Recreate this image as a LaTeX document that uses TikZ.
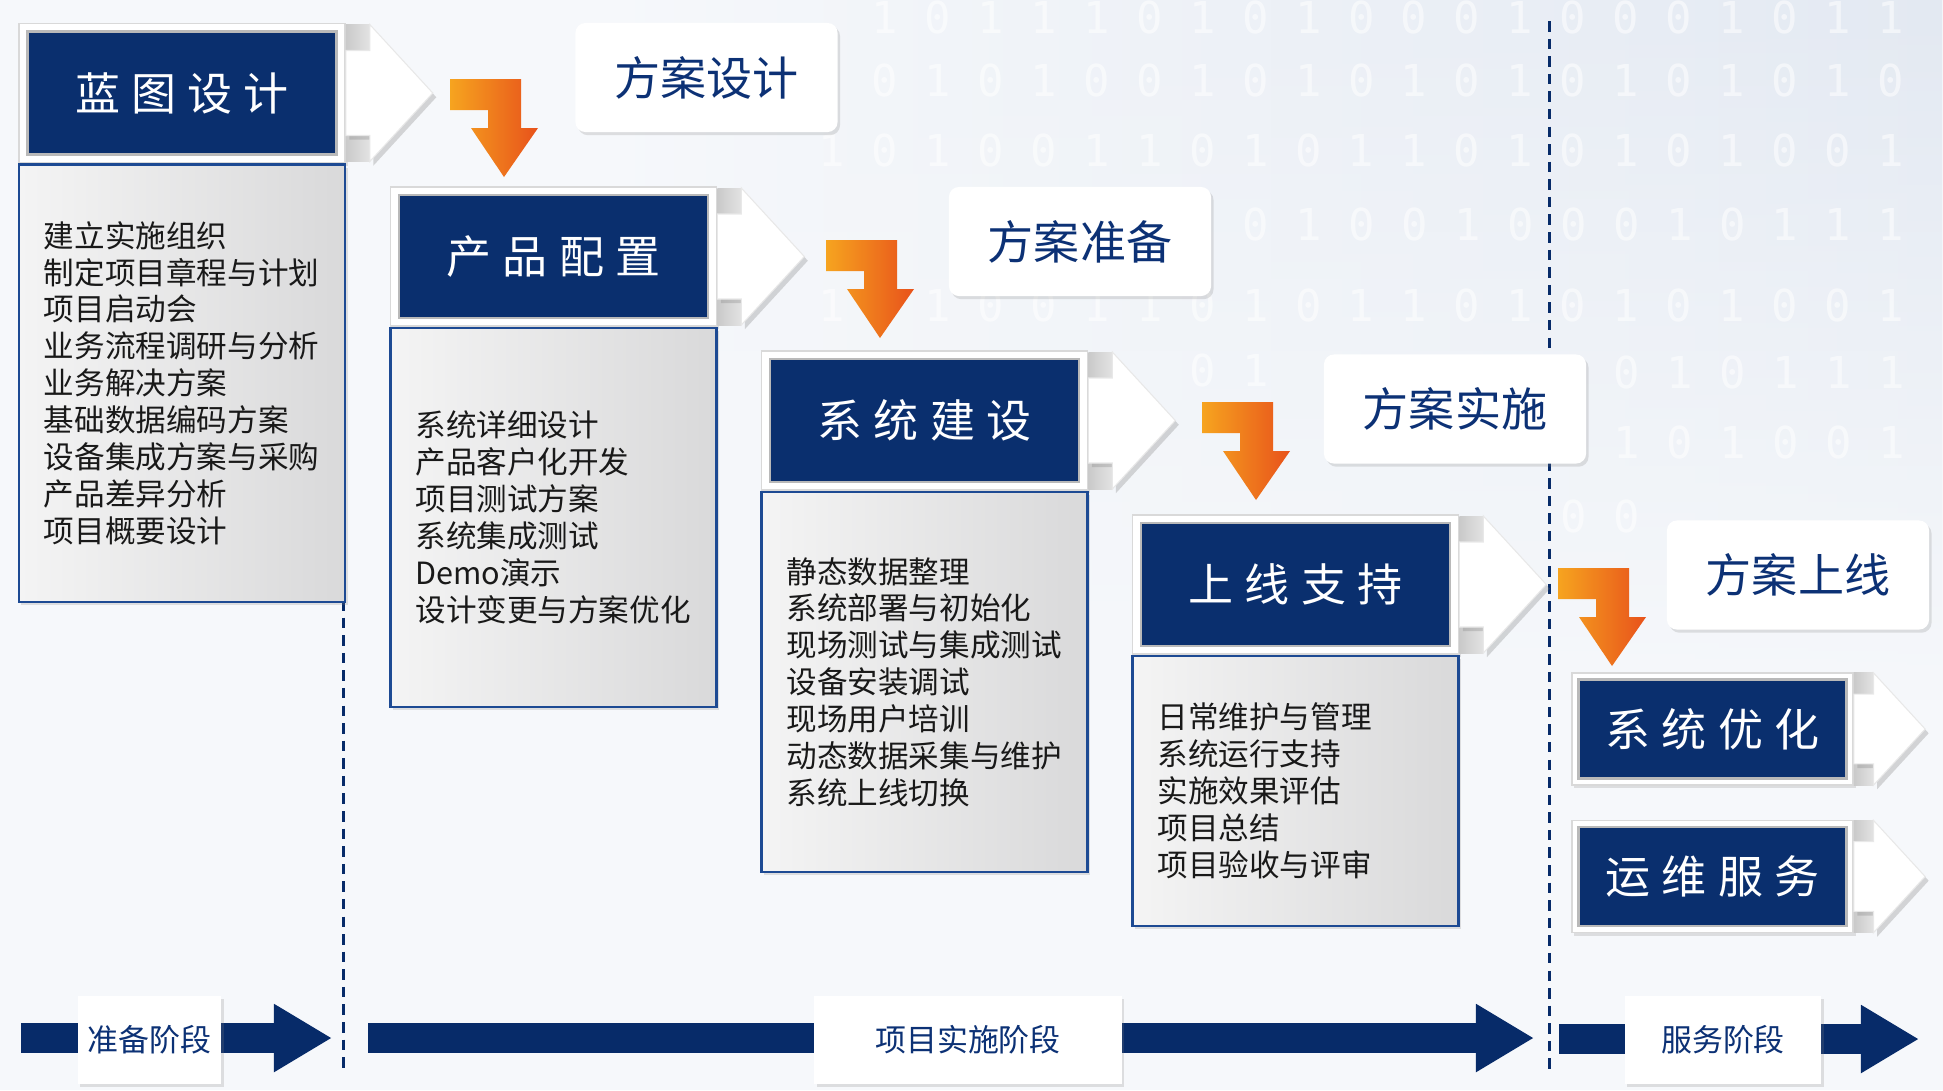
\documentclass[tikz,border=0pt]{standalone}
\usepackage{fontspec}
\setmainfont{Noto Sans CJK SC}
\newfontfamily\headfont[LetterSpace=25]{Noto Sans CJK SC}
\newfontfamily\bitfont{DejaVu Sans Mono}
\usepackage{tikz}
\usetikzlibrary{arrows.meta,positioning,shadows,fadings}
\definecolor{Navy}{HTML}{072B69}
\definecolor{NavyIn}{HTML}{0A2F6E}
\definecolor{NavyOut}{HTML}{021648}
\definecolor{NavyText}{HTML}{0C3175}
\definecolor{Edge}{HTML}{1D4A93}
\definecolor{OrangeL}{HTML}{F6A41F}
\definecolor{OrangeR}{HTML}{E8521B}
\definecolor{Paper}{HTML}{F6F8FB}
\definecolor{PaperBlue}{HTML}{E3E9F2}
\definecolor{ListL}{HTML}{F4F4F4}
\definecolor{ListR}{HTML}{D9D9DA}
\pgfdeclareradialshading{vignette}{\pgfpoint{0bp}{0bp}}{color(0bp)=(NavyIn); color(36bp)=(NavyIn); color(52bp)=(NavyOut); color(72bp)=(NavyOut)}
\newcommand{\turnarrow}[1]{\begin{scope}[shift={(#1)}]
  \shade[turn] (0,0) -- (71,0) -- (71,49) -- (88,49) -- (54,98) -- (21,49) -- (38,49) -- (38,31) -- (0,31) -- cycle;
\end{scope}}
\newcommand{\nextarrow}[2]{\begin{scope}[shift={(#1.east)},scale=#2]
  \shade[left color=gray!42, right color=gray!22] (0,-68.5) rectangle (24,68.5);
  \fill[white,draw=gray!18,line width=0.3pt,drop shadow={opacity=0.3,shadow xshift=1pt,shadow yshift=-1.2pt}] (0,-42.5) -- (24,-42.5) -- (24,-68.5) -- (87,0) -- (24,68.5) -- (24,42.5) -- (0,42.5) -- cycle;
\end{scope}}

\begin{document}
\begin{tikzpicture}[x=0.01cm, y=-0.01cm, every node/.style={font=\fontsize{8.7}{10.5}\selectfont},
  soft/.style={drop shadow={opacity=0.22,shadow xshift=0.7pt,shadow yshift=-0.9pt}},
  frame/.style={draw=gray!30, fill=white, inner sep=0pt, minimum width=3.26cm, minimum height=1.39cm, soft},
  head/.style={draw=gray!55, line width=0.7pt, shade, shading=vignette, text=white, inner sep=0pt, minimum width=3.09cm, minimum height=1.23cm, font=\headfont\fontsize{12.8}{14}\selectfont},
  list/.style={draw=Edge, line width=0.7pt, left color=ListL, right color=ListR, text=black!90, inner xsep=0.25cm, text width=2.76cm, align=left, soft},
  note/.style={fill=white, rounded corners=0.1cm, minimum width=2.62cm, minimum height=1.09cm, text=NavyText, font=\fontsize{13.1}{15}\selectfont, soft},
  phase/.style={fill=white, inner sep=0pt, minimum height=0.88cm, text=NavyText, font=\fontsize{8.8}{10}\selectfont, soft},
  turn/.style={left color=OrangeL, right color=OrangeR},
  timeline/.style={draw=Navy, line width=0.3cm, -{Triangle[length=0.58cm,width=0.64cm]}},
  divider/.style={draw=Navy, line width=0.85pt, dash pattern=on 3pt off 2pt}]
\useasboundingbox (0,0) rectangle (1943,1090);
% background
\fill[Paper] (0,0) rectangle (1943,1090);
\shade[left color=Paper, right color=PaperBlue, path fading=south] (600,0) rectangle (1943,700);
\foreach \yy/\kk/\bits in {17/1/{1 0 1 1 1 0 1 0 1 0 0 0 1 0 0 0 1 0 1 1},
  80/1/{0 1 0 1 0 0 1 0 1 0 1 0 1 0 1 0 1 0 1 0},
  150/0/{1 0 1 0 0 1 1 0 1 0 1 1 0 1 0 1 0 1 0 0 1},
  224/8/{0 1 0 0 1 0 0 0 1 0 1 1 1},
  305/0/{1 0 1 0 0 1 1 0 1 0 1 1 0 1 0 1 0 1 0 0 1},
  370/7/{0 1},
  372/15/{0 1 0 1 1 1},
  442/15/{1 0 1 0 0 1},
  516/14/{0 0}}
  \node[anchor=west, inner sep=0pt, text=white, text opacity=0.55, font=\bitfont\fontsize{12.5}{12.5}\selectfont] (bit\yy) at (818+53*\kk,\yy) {\bits};

% phase dividers
\coordinate (d1a) at (343,600);
\coordinate (d1b) at (343,1072);
\coordinate (d2a) at (1549,21);
\coordinate (d2b) at (1549,1072);
\draw[divider] (d1a) -- (d1b);
\draw[divider] (d2a) -- (d2b);

% stages
\node[frame] (s1) at (182,93) {};
\node[head] (h1) at (s1) {蓝图设计};
\node[list, minimum height=4.37cm, below=0pt of s1] (l1) {建立实施组织\\制定项目章程与计划\\项目启动会\\业务流程调研与分析\\业务解决方案\\基础数据编码方案\\设备集成方案与采购\\产品差异分析\\项目概要设计};
\nextarrow{s1}{1}

\node[frame] (s2) at (553.5,256.5) {};
\node[head] (h2) at (s2) {产品配置};
\node[list, minimum height=3.79cm, below=0pt of s2] (l2) {系统详细设计\\产品客户化开发\\项目测试方案\\系统集成测试\\Demo演示\\设计变更与方案优化};
\nextarrow{s2}{1}

\node[frame] (s3) at (924.5,420.5) {};
\node[head] (h3) at (s3) {系统建设};
\node[list, minimum height=3.80cm, below=0pt of s3] (l3) {静态数据整理\\系统部署与初始化\\现场测试与集成测试\\设备安装调试\\现场用户培训\\动态数据采集与维护\\系统上线切换};
\nextarrow{s3}{1}

\node[frame] (s4) at (1295.5,584.5) {};
\node[head] (h4) at (s4) {上线支持};
\node[list, minimum height=2.70cm, below=0pt of s4] (l4) {日常维护与管理\\系统运行支持\\实施效果评估\\项目总结\\项目验收与评审};
\nextarrow{s4}{1}

\node[frame, minimum width=2.81cm, minimum height=1.12cm] (s5) at (1712.5,729) {};
\node[head, minimum width=2.68cm, minimum height=0.99cm] (h5) at (s5) {系统优化};
\nextarrow{s5}{0.82}
\node[frame, minimum width=2.81cm, minimum height=1.12cm] (s6) at (1712.5,876.5) {};
\node[head, minimum width=2.68cm, minimum height=0.99cm] (h6) at (s6) {运维服务};
\nextarrow{s6}{0.82}

% plan callouts
\node[note] (c1) at (706.5,77.5) {方案设计};
\node[note] (c2) at (1080,241.5) {方案准备};
\node[note] (c3) at (1455,409) {方案实施};
\node[note] (c4) at (1798,575) {方案上线};
\turnarrow{450,79}
\turnarrow{826,240}
\turnarrow{1202,402}
\turnarrow{1558,568}

% timeline
\coordinate (t1a) at (21,1038);
\coordinate (t1b) at (332,1038);
\coordinate (t2a) at (368,1038);
\coordinate (t2b) at (1534,1038);
\coordinate (t3a) at (1559,1039);
\coordinate (t3b) at (1919,1039);
\draw[timeline] (t1a) -- (t1b);
\draw[timeline] (t2a) -- (t2b);
\draw[timeline] (t3a) -- (t3b);
\node[phase, minimum width=1.43cm] (p1) at (149.5,1040) {准备阶段};
\node[phase, minimum width=3.07cm] (p2) at (968,1040) {项目实施阶段};
\node[phase, minimum width=1.96cm] (p3) at (1723,1040) {服务阶段};
\end{tikzpicture}
\end{document}
